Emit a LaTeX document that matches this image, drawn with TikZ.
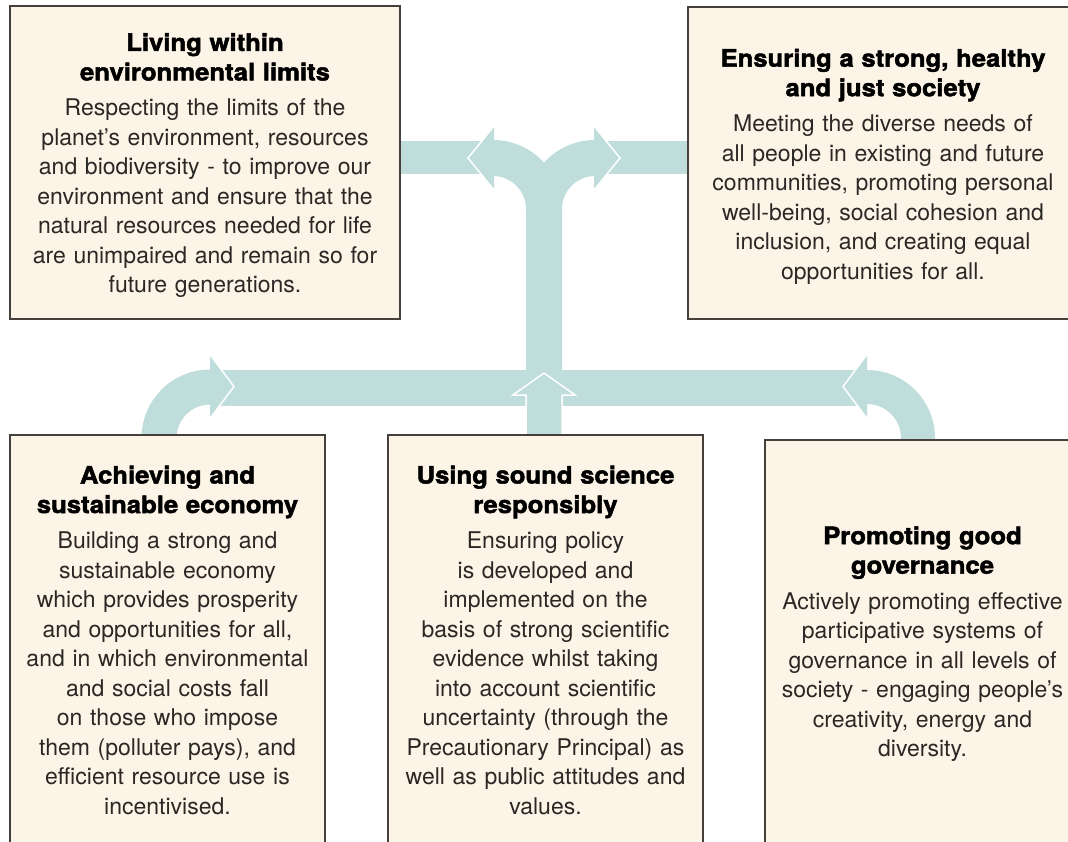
\documentclass[tikz,border=0pt]{standalone}
\usepackage{fontspec}
\setmainfont{TeX Gyre Heros}
\newfontfamily\headfont{TeX Gyre Heros}[BoldFeatures={FakeBold=2}, FakeStretch=1.07]
\definecolor{bandcol}{HTML}{BFDEDB}
\definecolor{boxfill}{HTML}{FDF4E8}
\definecolor{boxline}{HTML}{45403C}
\definecolor{bodytext}{HTML}{2B2724}
\newcommand{\boxhead}[1]{{\headfont\fontsize{24}{29.5}\selectfont\bfseries\color{black}#1}\\[6pt]}
\begin{document}
\begin{tikzpicture}[x=1pt, y=-1pt,
		boxtext/.style={align=center, inner sep=0pt, text=bodytext, font=\fontsize{23}{29.5}\selectfont},
		box/.style={boxtext, draw=boxline, line width=1.3pt, fill=boxfill},
		bandline/.style={bandcol, line width=36pt},
		head/.style={fill=bandcol, draw=white, line width=1.5pt}]
		\path[use as bounding box, fill=white] (0,0) rectangle (1068,841);
		\fill[bandcol] (395,141) rectangle (496,174);
		\fill[bandcol] (594,141) rectangle (693,174);
		\fill[bandcol] (218,370) rectangle (862,406);
		\draw[bandline] (544,440) -- (544,209) arc[start angle=0, end angle=-90, radius=51] -- (496,158);
		\draw[bandline] (544,209) arc[start angle=180, end angle=270, radius=51] -- (594,158);
		\draw[bandline, line width=35pt] (159,445) -- (159,438) arc[start angle=180, end angle=270, radius=51] -- (212,387);
		\draw[bandline, line width=34pt] (918,445) -- (918,438) arc[start angle=0, end angle=-90, radius=51] -- (865,387);
		\foreach \bx/\tx/\cy in {494/468/158, 594/620/158, 210/234/386.5, 867/843/386.5}{
			\path[head] (\bx,\cy-32) -- (\tx,\cy) -- (\bx,\cy+32);
		}
		\path[head] (526,440) -- (526,395) -- (513,395) -- (544,373) -- (575,395) -- (562,395) -- (562,440);
		
		\node[box, minimum width=390pt, minimum height=313pt] (env) at (205,162.5) {};
		\node[boxtext, text width=390pt] (envtext) at (205,165.5) {\boxhead{Living within\\environmental limits}
			Respecting the limits of the\\planet’s environment, resources\\and biodiversity - to improve our\\environment and ensure that the\\natural resources needed for life\\are unimpaired and remain so for\\future generations.};
		\node[box, minimum width=390pt, minimum height=312pt] (soc) at (883,163) {};
		\node[boxtext, text width=390pt] (soctext) at (883,166.5) {\boxhead{Ensuring a strong, healthy\\and just society}
			Meeting the diverse needs of\\all people in existing and future\\communities, promoting personal\\well-being, social cohesion and\\inclusion, and creating equal\\opportunities for all.};
		\node[box, text width=315pt, minimum height=410pt] (econ) at (167.5,640) {\boxhead{Achieving and\\sustainable economy}
			Building a strong and\\sustainable economy\\which provides prosperity\\and opportunities for all,\\and in which environmental\\and social costs fall\\on those who impose\\them (polluter pays), and\\efficient resource use is\\incentivised.};
		\node[box, text width=315pt, minimum height=410pt] (sci) at (545.5,640) {\boxhead{Using sound science\\responsibly}
			Ensuring policy\\is developed and\\implemented on the\\basis of strong scientific\\evidence whilst taking\\into account scientific\\uncertainty (through the\\Precautionary Principal) as\\well as public attitudes and\\values.};
		\node[box, text width=315pt, minimum height=408pt] (gov) at (922.5,644) {\boxhead{Promoting good\\governance}
			Actively promoting effective\\participative systems of\\governance in all levels of\\society - engaging people’s\\creativity, energy and\\diversity.};
\end{tikzpicture}
\end{document}
